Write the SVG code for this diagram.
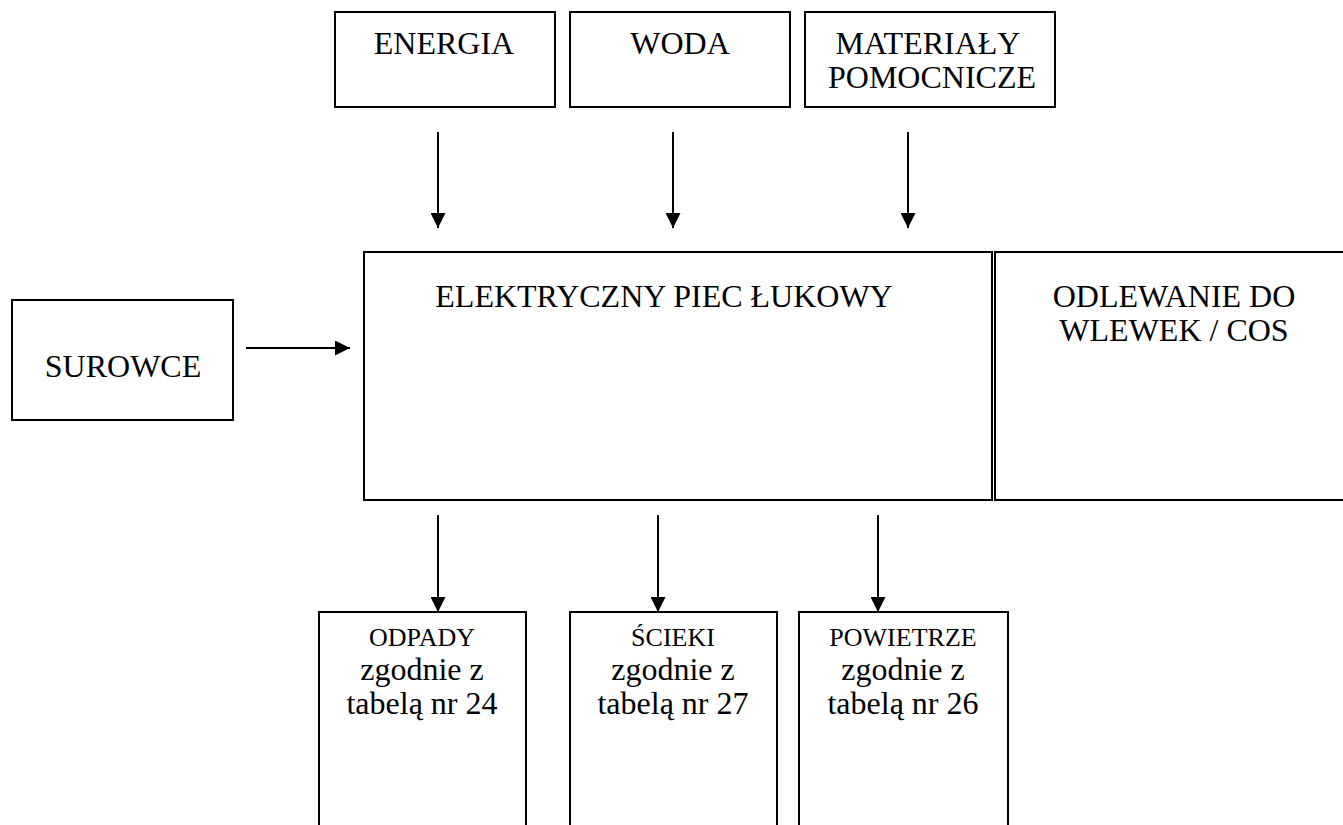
<svg xmlns="http://www.w3.org/2000/svg" width="1343" height="825" viewBox="0 0 1343 825">
  <style>
    .box { fill: #ffffff; stroke: #000000; stroke-width: 2; }
    .lbl { font-family: "Liberation Serif", "Times New Roman", serif; font-size: 32px; fill: #000000; text-anchor: middle; }
    .sm { font-size: 26px; }
    .flow { stroke: #000000; stroke-width: 2; fill: none; marker-end: url(#head); }
  </style>
  <defs>
    <marker id="head" viewBox="0 0 10 10" refX="10" refY="5" markerWidth="7.5" markerHeight="7.5" markerUnits="strokeWidth" orient="auto">
      <path d="M0,0 L10,5 L0,10 Z" fill="#000000"/>
    </marker>
  </defs>
  <rect width="1343" height="825" fill="#ffffff"/>

  <!-- inputs -->
  <g id="energia">
    <rect class="box" x="335" y="12" width="220" height="95"/>
    <text class="lbl" x="444" y="54">ENERGIA</text>
  </g>
  <g id="woda">
    <rect class="box" x="570" y="12" width="220" height="95"/>
    <text class="lbl" x="680" y="54">WODA</text>
  </g>
  <g id="materialy">
    <rect class="box" x="805" y="12" width="250" height="95"/>
    <text class="lbl" x="928" y="54">MATERIAŁY</text>
    <text class="lbl" x="932" y="88">POMOCNICZE</text>
  </g>
  <g id="surowce">
    <rect class="box" x="12" y="300" width="221" height="120"/>
    <text class="lbl" x="123" y="377">SUROWCE</text>
  </g>

  <!-- process -->
  <g id="piec">
    <rect class="box" x="364" y="252" width="628" height="248"/>
    <text class="lbl" x="664" y="307">ELEKTRYCZNY PIEC ŁUKOWY</text>
  </g>
  <g id="odlewanie">
    <rect class="box" x="995" y="252" width="352" height="248"/>
    <text class="lbl" x="1174" y="307">ODLEWANIE DO</text>
    <text class="lbl" x="1174" y="341">WLEWEK / COS</text>
  </g>

  <!-- outputs -->
  <g id="odpady">
    <rect class="box" x="319" y="612" width="207" height="230"/>
    <text class="lbl sm" x="422" y="646">ODPADY</text>
    <text class="lbl" x="422" y="680">zgodnie z</text>
    <text class="lbl" x="422" y="714">tabelą nr 24</text>
  </g>
  <g id="scieki">
    <rect class="box" x="570" y="612" width="207" height="230"/>
    <text class="lbl sm" x="673" y="646">ŚCIEKI</text>
    <text class="lbl" x="673" y="680">zgodnie z</text>
    <text class="lbl" x="673" y="714">tabelą nr 27</text>
  </g>
  <g id="powietrze">
    <rect class="box" x="799" y="612" width="209" height="230"/>
    <text class="lbl sm" x="903" y="646">POWIETRZE</text>
    <text class="lbl" x="903" y="680">zgodnie z</text>
    <text class="lbl" x="903" y="714">tabelą nr 26</text>
  </g>

  <g id="connectors">
    <line class="flow" x1="438" y1="132" x2="438" y2="228"/>
    <line class="flow" x1="673" y1="132" x2="673" y2="228"/>
    <line class="flow" x1="908" y1="132" x2="908" y2="228"/>
    <line class="flow" x1="246" y1="348" x2="350" y2="348"/>
    <line class="flow" x1="438" y1="515" x2="438" y2="612"/>
    <line class="flow" x1="658" y1="515" x2="658" y2="612"/>
    <line class="flow" x1="878" y1="515" x2="878" y2="612"/>
  </g>
</svg>
